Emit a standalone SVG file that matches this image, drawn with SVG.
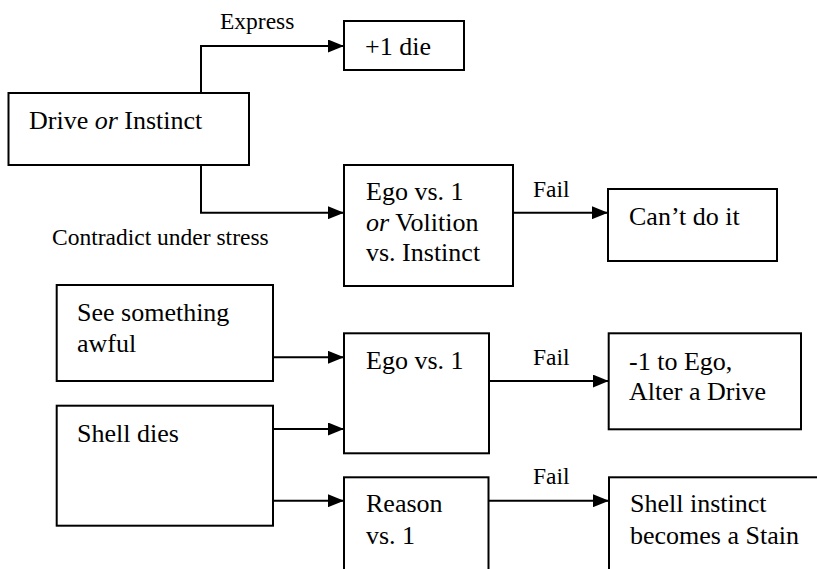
<svg xmlns="http://www.w3.org/2000/svg" width="817" height="569" viewBox="0 0 817 569">
<style>
.box{fill:#fff;stroke:#000;stroke-width:2}
.c{fill:none;stroke:#000;stroke-width:2}
</style>
<defs>
<marker id="ah" markerUnits="userSpaceOnUse" markerWidth="16" markerHeight="13" refX="16" refY="6.5" orient="auto">
<path d="M0,0 L16,6.5 L0,13 z" fill="#000"/>
</marker>
</defs>
<rect width="817" height="569" fill="#fff"/>
<g id="connectors">
<path class="c" d="M201,93 V46 H344" marker-end="url(#ah)"/>
<path class="c" d="M201,165 V212.7 H344" marker-end="url(#ah)"/>
<path class="c" d="M513,212.7 H608" marker-end="url(#ah)"/>
<path class="c" d="M273,357.3 H344" marker-end="url(#ah)"/>
<path class="c" d="M273,429 H344" marker-end="url(#ah)"/>
<path class="c" d="M273,500.7 H344" marker-end="url(#ah)"/>
<path class="c" d="M489,381 H608.7" marker-end="url(#ah)"/>
<path class="c" d="M488.5,500.7 H609" marker-end="url(#ah)"/>
<text x="220" y="29" font-family="Liberation Serif" font-size="23.5">Express</text>
<text x="52" y="245" font-family="Liberation Serif" font-size="23.5">Contradict under stress</text>
<text x="533" y="197" font-family="Liberation Serif" font-size="23.5">Fail</text>
<text x="533" y="365" font-family="Liberation Serif" font-size="23.5">Fail</text>
<text x="533" y="484" font-family="Liberation Serif" font-size="23.5">Fail</text>
</g>
<g id="drive">
<rect class="box" x="8.5" y="93" width="240.5" height="72"/>
<g font-family="Liberation Serif" font-size="26"><text x="29" y="129"><tspan font-family="Liberation Serif">Drive </tspan><tspan font-family="Liberation Serif" font-style="italic">or</tspan><tspan font-family="Liberation Serif"> Instinct</tspan></text></g>
</g>
<g id="plus1">
<rect class="box" x="344" y="21" width="120" height="49"/>
<g font-family="Liberation Serif" font-size="26"><text x="365" y="55"><tspan font-family="Liberation Serif">+1 die</tspan></text></g>
</g>
<g id="egovolition">
<rect class="box" x="344" y="165" width="169" height="121"/>
<g font-family="Liberation Serif" font-size="26">
<text x="366" y="200"><tspan font-family="Liberation Serif">Ego vs. 1</tspan></text>
<text x="366" y="230.5"><tspan font-family="Liberation Serif" font-style="italic">or</tspan><tspan font-family="Liberation Serif"> Volition</tspan></text>
<text x="366" y="261"><tspan font-family="Liberation Serif">vs. Instinct</tspan></text>
</g>
</g>
<g id="cantdo">
<rect class="box" x="608" y="189" width="169" height="72"/>
<g font-family="Liberation Serif" font-size="26"><text x="629" y="225"><tspan font-family="Liberation Serif">Can’t do it</tspan></text></g>
</g>
<g id="see">
<rect class="box" x="56.7" y="285" width="216.3" height="96"/>
<g font-family="Liberation Serif" font-size="26">
<text x="77" y="320.7"><tspan font-family="Liberation Serif">See something</tspan></text>
<text x="77" y="351.5"><tspan font-family="Liberation Serif">awful</tspan></text>
</g>
</g>
<g id="shelldies">
<rect class="box" x="56.7" y="405.7" width="216.3" height="120"/>
<g font-family="Liberation Serif" font-size="26"><text x="77" y="441.7"><tspan font-family="Liberation Serif">Shell dies</tspan></text></g>
</g>
<g id="ego2">
<rect class="box" x="344" y="333.3" width="145" height="120"/>
<g font-family="Liberation Serif" font-size="26"><text x="366" y="369"><tspan font-family="Liberation Serif">Ego vs. 1</tspan></text></g>
</g>
<g id="minus1">
<rect class="box" x="608.7" y="333.3" width="192.3" height="96"/>
<g font-family="Liberation Serif" font-size="26">
<text x="629" y="370"><tspan font-family="Liberation Serif">-1 to Ego,</tspan></text>
<text x="629" y="400"><tspan font-family="Liberation Serif">Alter a Drive</tspan></text>
</g>
</g>
<g id="reason">
<rect class="box" x="344" y="477.3" width="144.5" height="120"/>
<g font-family="Liberation Serif" font-size="26">
<text x="366" y="512"><tspan font-family="Liberation Serif">Reason</tspan></text>
<text x="366" y="543.5"><tspan font-family="Liberation Serif">vs. 1</tspan></text>
</g>
</g>
<g id="stain">
<rect class="box" x="609" y="477.3" width="220" height="120"/>
<g font-family="Liberation Serif" font-size="26">
<text x="630" y="512"><tspan font-family="Liberation Serif">Shell instinct</tspan></text>
<text x="630" y="543.5"><tspan font-family="Liberation Serif">becomes a Stain</tspan></text>
</g>
</g>
</svg>
